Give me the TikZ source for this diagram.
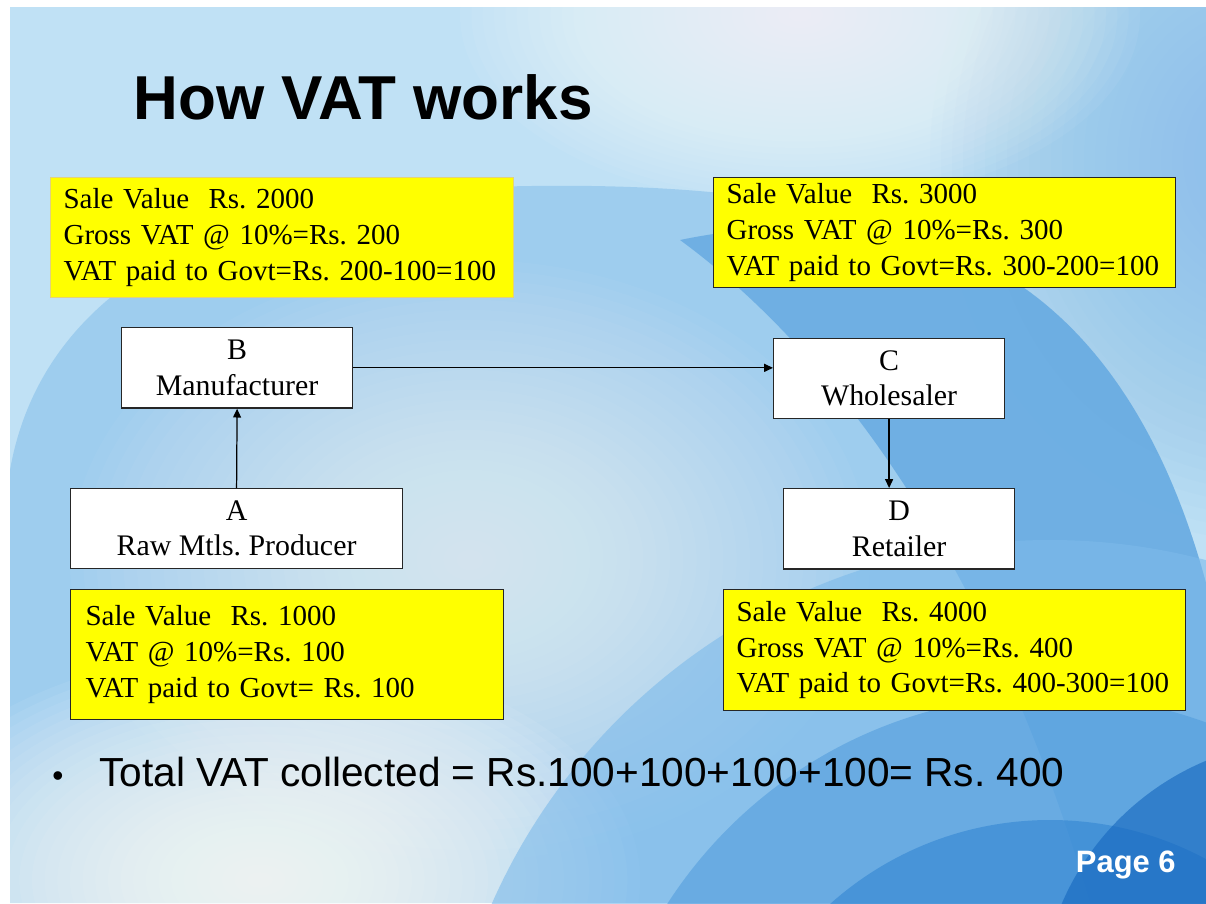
\documentclass[tikz,border=0pt]{standalone}
\usepackage{fontspec}
\setmainfont{Liberation Serif}
\newfontfamily\arialfont{Liberation Sans}
\usetikzlibrary{arrows.meta}
\frenchspacing

\definecolor{bgbase}{HTML}{C0E1F5}
\definecolor{skyright}{HTML}{8BC1EB}
\definecolor{arcmid}{HTML}{93C7EC}
\definecolor{swoosh}{HTML}{4A98DB}
\definecolor{fanlight}{HTML}{7DBAEA}
\definecolor{fanmid}{HTML}{4E9ADC}
\definecolor{fandeep}{HTML}{2E82D1}
\definecolor{fancorner}{HTML}{1466BE}
\definecolor{vatyellow}{HTML}{FFFF00}
\definecolor{boxline}{HTML}{262626}
\definecolor{paleline}{HTML}{E3D27A}

\newcommand{\boxfont}{\frenchspacing\fontsize{16.5}{20.3}\selectfont}
\newcommand{\partyfont}{\frenchspacing\fontsize{17}{20}\selectfont}

% soft spot built from stacked translucent ellipses:
% centre x, centre y, radius x, radius y, fill options
\newcommand{\glowspot}[5]{%
  \foreach \k in {1,...,30}{%
    \fill[opacity=0.035, #5] (#1,#2) ellipse ({#3*\k/30} and {#4*\k/30});
  }}

\tikzset{
  note/.style={fill=vatyellow, draw=boxline, line width=0.7pt, anchor=north west,
    align=left, font=\boxfont, inner xsep=0.26cm, inner ysep=0pt},
  party/.style={fill=white, draw=boxline, line width=0.7pt, anchor=north west,
    align=center, font=\partyfont, inner sep=0pt, minimum height=1.61cm},
  flow/.style={-{Triangle[length=5pt,width=4.5pt]}, line width=0.7pt, draw=black}
}

\begin{document}
\begin{tikzpicture}[x=0.02cm,y=-0.02cm]
\useasboundingbox (0,0) rectangle (1206,903);
\fill[white] (0,0) rectangle (1206,903);

% ---- slide background ----
\begin{scope}
  \clip (10,7) rectangle (1206,903);
  \fill[bgbase] (10,7) rectangle (1206,903);
  \glowspot{1260}{160}{330}{380}{skyright, opacity=0.06}
  \glowspot{800}{15}{340}{190}{white, opacity=0.05}
  % large sweeping arc
  \fill[arcmid, opacity=0.75]
    (10,470) .. controls (40,300) and (200,200) .. (461,188)
    .. controls (700,178) and (900,200) .. (1027,290)
    .. controls (1110,350) and (1170,450) .. (1206,583)
    -- (1206,903) -- (10,903) -- cycle;
  % lighter centre and lower-left haze
  \glowspot{470}{560}{400}{300}{white, opacity=0.035}
  \glowspot{260}{880}{380}{230}{white, opacity=0.065}
  % darker swoosh on the right
  \fill[swoosh, opacity=0.55]
    (680,240) .. controls (830,350) and (990,560) .. (1090,903)
    -- (1206,903) -- (1206,583)
    .. controls (1170,450) and (1110,350) .. (1027,290)
    .. controls (930,225) and (800,215) .. cycle;
  % fan of arcs toward the lower right
  \fill[fanlight, opacity=0.6] (1050,1150) circle (610);
  \fill[fanmid, opacity=0.55] (1050,1150) circle (455);
  \fill[fandeep, opacity=0.55] (1050,1150) circle (330);
  \fill[fancorner, opacity=0.6] (1310,1010) circle (270);
\end{scope}

% ---- title ----
\node[anchor=base west, inner sep=0pt, font=\arialfont\bfseries\fontsize{35.3}{40}\selectfont]
  (title) at (133,119) {How VAT works};

% ---- yellow notes ----
\node[note, draw=paleline, text width=8.74cm, minimum height=2.4cm] (noteB) at (50,177)
  {\mbox{Sale Value\ \ Rs. 2000}\\
   \mbox{Gross VAT @ 10\%=Rs. 200}\\
   \mbox{VAT paid to Govt=Rs. 200-100=100}};
\node[note, text width=8.72cm, minimum height=2.2cm] (noteC) at (713,177)
  {\mbox{Sale Value\ \ Rs. 3000}\\
   \mbox{Gross VAT @ 10\%=Rs. 300}\\
   \mbox{VAT paid to Govt=Rs. 300-200=100}};
\node[note, inner xsep=0.3cm, text width=8.06cm, minimum height=2.6cm] (noteA) at (70,589)
  {\mbox{Sale Value\ \ Rs. 1000}\\
   \mbox{VAT @ 10\%=Rs. 100}\\
   \mbox{VAT paid to Govt= Rs. 100}};
\node[note, text width=8.72cm, minimum height=2.42cm] (noteD) at (723,589)
  {\mbox{Sale Value\ \ Rs. 4000}\\
   \mbox{Gross VAT @ 10\%=Rs. 400}\\
   \mbox{VAT paid to Govt=Rs. 400-300=100}};

% ---- trading parties ----
\node[party, minimum width=4.62cm] (B) at (121,327) {B\\Manufacturer};
\node[party, minimum width=6.64cm, minimum height=1.6cm] (A) at (70,488) {A\\Raw Mtls. Producer};
\node[party, minimum width=4.62cm, minimum height=1.6cm] (C) at (773,338) {C\\Wholesaler};
\node[party, minimum width=4.62cm] (D) at (783,488) {D\\Retailer};

% ---- flow of goods ----
\draw[flow] (A.north) -- (B.south);
\draw[flow] (B.east) -- (B.east -| C.west);
\draw[flow] (C.south) -- (C.south |- D.north);

% ---- summary line ----
\node[anchor=base west, inner sep=0pt, font=\arialfont\fontsize{18}{22}\selectfont]
  (bullet) at (52,786) {\textbullet};
\node[anchor=base west, inner sep=0pt, font=\arialfont\fontsize{23.1}{28}\selectfont]
  (total) at (99,786) {Total VAT collected = Rs.100+100+100+100= Rs. 400};

% ---- page number ----
\node[anchor=base east, inner sep=0pt, text=white,
  font=\arialfont\bfseries\fontsize{17.6}{21}\selectfont]
  (page) at (1176,872) {Page 6};
\end{tikzpicture}
\end{document}
